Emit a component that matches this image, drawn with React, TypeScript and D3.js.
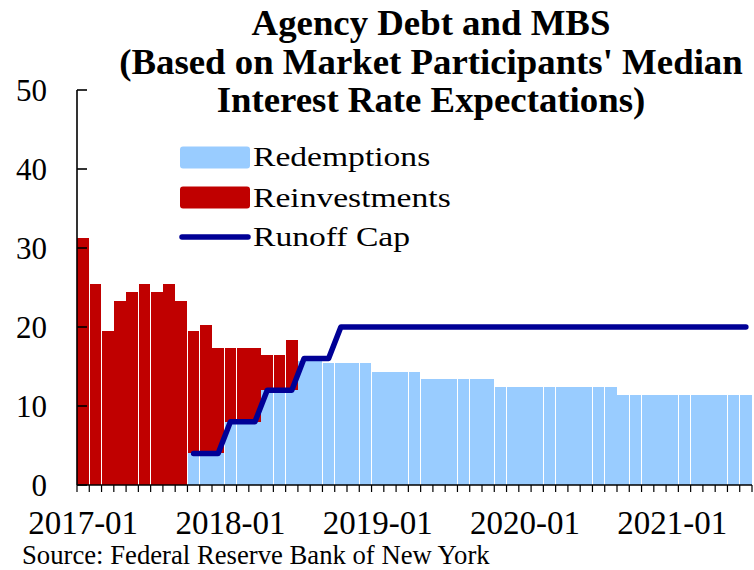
import React from "react";
import * as d3 from "d3";

const W = 754;
const H = 570;

// Monthly categories 2017-01 .. 2021-07
const months: string[] = d3
  .timeMonths(new Date(2017, 0, 1), new Date(2021, 7, 1))
  .map((d) => d3.timeFormat("%Y-%m")(d));

const redemptions: number[] = [
  0, 0, 0, 0, 0, 0, 0, 0, 0,
  4, 4, 4,
  8, 8, 8,
  12, 12, 12,
  15.7, 15.7,
  15.4, 15.4, 15.4, 15.4,
  14.3, 14.3, 14.3, 14.3,
  13.4, 13.4, 13.4, 13.4, 13.4, 13.4,
  12.4, 12.4, 12.4, 12.4, 12.4, 12.4, 12.4, 12.4, 12.4, 12.4,
  11.4, 11.4, 11.4, 11.4, 11.4, 11.4, 11.4, 11.4, 11.4, 11.4, 11.4,
];

const reinvestments: number[] = [
  31.3, 25.4, 19.5, 23.3, 24.4, 25.4, 24.4, 25.4, 23.3,
  15.5, 16.3, 13.4,
  9.4, 9.4, 9.4,
  4.4, 4.4, 6.3,
  0, 0, 0, 0, 0, 0, 0, 0, 0, 0, 0, 0, 0, 0, 0, 0, 0, 0, 0, 0, 0, 0,
  0, 0, 0, 0, 0, 0, 0, 0, 0, 0, 0, 0, 0, 0, 0,
];

const runoffCap: (number | null)[] = [
  null, null, null, null, null, null, null, null, null,
  4, 4, 4, 8, 8, 8, 12, 12, 12, 16, 16, 16,
  20, 20, 20, 20, 20, 20, 20, 20, 20, 20, 20, 20, 20, 20, 20, 20, 20,
  20, 20, 20, 20, 20, 20, 20, 20, 20, 20, 20, 20, 20, 20, 20, 20, 20,
];

const yTicks: number[] = [0, 10, 20, 30, 40, 50];
const xTickLabels: string[] = ["2017-01", "2018-01", "2019-01", "2020-01", "2021-01"];

const titleLines: string[] = [
  "Agency Debt and MBS",
  "(Based on Market Participants' Median",
  "Interest Rate Expectations)",
];

const RED = "#C00000";
const BLUE = "#99CCFF";
const NAVY = "#000096";
const FONT = "'Liberation Serif', 'Times New Roman', serif";

export default function App() {
  const x = d3.scaleBand<string>().domain(months).range([77, 752]).paddingInner(0).paddingOuter(0);
  const y = d3.scaleLinear().domain([0, 50]).range([485, 90]);
  const bw = x.bandwidth();
  const gap = 0.6;

  const linePts = months
    .map((m, i) => ({ m, v: runoffCap[i] }))
    .filter((d) => d.v !== null) as { m: string; v: number }[];
  const line = d3
    .line<{ m: string; v: number }>()
    .x((d) => (x(d.m) as number) + bw / 2)
    .y((d) => y(d.v));

  const tickXs = months.map((m) => x(m) as number).concat([752]);

  return (
    <svg
      width={W}
      height={H}
      style={{ position: "absolute", left: 0, top: 0, background: "#fff" }}
      fontFamily={FONT}
    >
      <rect x={0} y={0} width={W} height={H} fill="#fff" />
      {/* Title */}
      {titleLines.map((t, i) => (
        <text
          key={t}
          x={431}
          y={35 + i * 38.5}
          textAnchor="middle"
          fontSize={36.8}
          fontWeight="bold"
          fill="#000"
        >
          {t}
        </text>
      ))}

      {/* Bars */}
      <g shapeRendering="crispEdges">
        {months.map((m, i) => {
          const x0 = x(m) as number;
          const r = redemptions[i];
          const v = reinvestments[i];
          return (
            <g key={m}>
              {r > 0 && (
                <rect x={x0 + gap / 2} y={y(r)} width={bw - gap} height={y(0) - y(r)} fill={BLUE} />
              )}
              {v > 0 && (
                <rect x={x0 + gap / 2} y={y(r + v)} width={bw - gap} height={y(r) - y(r + v)} fill={RED} />
              )}
            </g>
          );
        })}
      </g>

      {/* Runoff cap line */}
      <path
        d={line(linePts) || ""}
        fill="none"
        stroke={NAVY}
        strokeWidth={5.5}
        strokeLinejoin="round"
        strokeLinecap="round"
      />

      {/* Y axis */}
      <line x1={77} x2={77} y1={y(50)} y2={y(0)} stroke="#000" strokeWidth={1.6} />
      {yTicks.map((t) => (
        <g key={t}>
          <line x1={77} x2={87} y1={y(t)} y2={y(t)} stroke="#000" strokeWidth={1.6} />
          <text x={47} y={y(t) + 10.5} textAnchor="end" fontSize={31} fill="#000">
            {t}
          </text>
        </g>
      ))}

      {/* X axis */}
      <line x1={77} x2={752} y1={y(0)} y2={y(0)} stroke="#000" strokeWidth={1.6} />
      {tickXs.map((tx, i) => (
        <line key={i} x1={tx} x2={tx} y1={y(0)} y2={y(0) + 7} stroke="#000" strokeWidth={1.2} />
      ))}
      {xTickLabels.map((lab) => (
        <text
          key={lab}
          x={(x(lab) as number) + bw / 2}
          y={534}
          textAnchor="middle"
          fontSize={33}
          fill="#000"
        >
          {lab}
        </text>
      ))}

      {/* Legend */}
      <rect x={180} y={146.5} width={70} height={22} rx={3} fill={BLUE} />
      <rect x={180} y={186.5} width={70} height={22} rx={3} fill={RED} />
      <line x1={182} x2={248} y1={237} y2={237} stroke={NAVY} strokeWidth={5.5} strokeLinecap="round" />
      {[
        { t: "Redemptions", yy: 166 },
        { t: "Reinvestments", yy: 207 },
        { t: "Runoff Cap", yy: 245.5 },
      ].map((d) => (
        <text
          key={d.t}
          transform={`translate(253,${d.yy}) scale(1.2,1)`}
          fontSize={28}
          fill="#000"
        >
          {d.t}
        </text>
      ))}

      {/* Source */}
      <text x={22} y={564} fontSize={26.7} fill="#000">
        Source:  Federal Reserve Bank of New York
      </text>
    </svg>
  );
}
